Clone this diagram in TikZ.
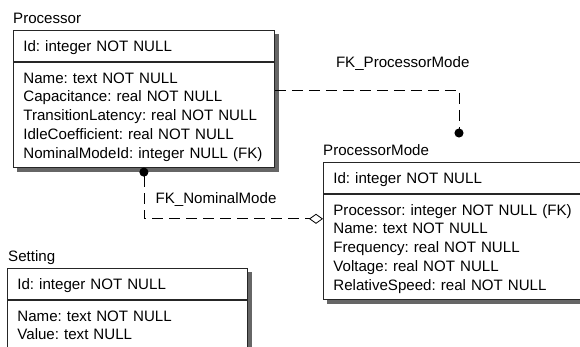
\documentclass[tikz,border=0pt]{standalone}
\usepackage{fontspec}
\setmainfont{Liberation Sans}
\frenchspacing
\usetikzlibrary{arrows.meta,positioning,calc}
\newcommand{\erfont}{\fontsize{15.1}{18.75}\selectfont}
\tikzset{
  % table parts
  keybox/.style={draw=black!85, line width=0.8pt, fill=white, anchor=north west,
    text width=241pt, inner xsep=10pt, minimum height=31pt,
    text height=13pt, text depth=1pt, align=left, font=\erfont},
  attrbox/.style={keybox, minimum height=0pt, inner ysep=6pt,
    text height=15pt, text depth=\pgfkeysvalueof{/tikz/attrdepth}},
  attrdepth/.initial=78pt,
  tabletitle/.style={inner sep=0pt, font=\erfont},
  % shadow strip of a table
  tableshadow/.style={fill=black!60, draw=none},
  % relationship lines
  relation/.style={line width=0.8pt, dash pattern=on 11pt off 6pt},
  fklabel/.style={anchor=base west, inner sep=0pt, font=\erfont},
}
% shadow along right and bottom edge of a table: #1 key node, #2 attribute node
\newcommand{\tableshade}[2]{%
  \fill[tableshadow] ($(#1.north east)+(0,4)$) rectangle ($(#2.south east)+(4,4)$);
  \fill[tableshadow] ($(#2.south west)+(4,0)$) rectangle ($(#2.south east)+(4,4)$);
}

\begin{document}
\begin{tikzpicture}[x=1pt, y=-1pt]
  \useasboundingbox (0,0) rectangle (580,346);

  % Processor
  \node[keybox] (proc key) at (13,30) {Id: integer NOT NULL};
  \node[attrbox, below=0pt of proc key] (proc attr)
    {Name: text NOT NULL\\Capacitance: real NOT NULL\\TransitionLatency: real NOT NULL\\IdleCoefficient: real NOT NULL\\NominalModeId: integer NULL (FK)};
  \node[tabletitle, above=7pt of proc key.north west, anchor=base west] (proc title) {Processor};

  % ProcessorMode
  \node[keybox] (mode key) at (323,162) {Id: integer NOT NULL};
  \node[attrbox, below=0pt of mode key] (mode attr)
    {Processor: integer NOT NULL (FK)\\Name: text NOT NULL\\Frequency: real NOT NULL\\Voltage: real NOT NULL\\RelativeSpeed: real NOT NULL};
  \node[tabletitle, above=7pt of mode key.north west, anchor=base west] (mode title) {ProcessorMode};

  % Setting
  \node[keybox, text width=220pt] (set key) at (7,268) {Id: integer NOT NULL};
  \node[attrbox, text width=220pt, attrdepth=70pt, below=0pt of set key] (set attr)
    {Name: text NOT NULL\\Value: text NULL};
  \node[tabletitle, above=7pt of set key.north west, xshift=1pt, anchor=base west] (set title) {Setting};

  \tableshade{proc key}{proc attr}
  \tableshade{mode key}{mode attr}
  \tableshade{set key}{set attr}

  % FK_ProcessorMode
  \coordinate (mode dot) at ($(mode key.north west)+(136,-24.5)$);
  \draw[relation, -{Circle[length=9pt]}] ($(proc key.north east)+(0,60)$) -| (mode dot);
  \node[fklabel] (pm label) at ($(proc key.north east)+(61,37)$) {FK\_ProcessorMode};

  % FK_NominalMode
  \draw[relation, {Circle[length=9pt]}-{Diamond[open, length=14pt, width=10pt]}]
    (proc attr.south) |- ($(mode attr.north west)+(0,25)$);
  \node[fklabel] (nm label) at ($(proc attr.south)+(11.5,36)$) {FK\_NominalMode};
\end{tikzpicture}
\end{document}
